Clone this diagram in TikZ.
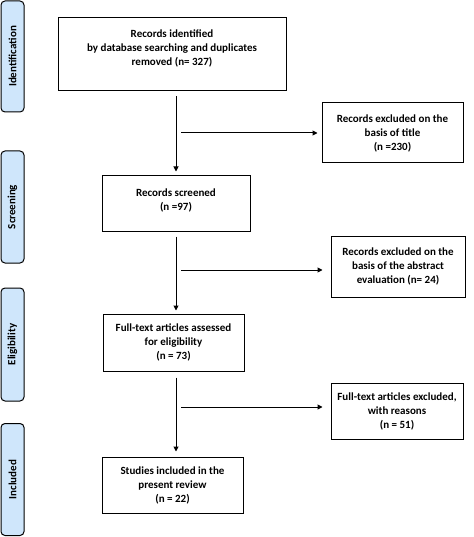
\documentclass[tikz,border=0pt]{standalone}
\usepackage{fontspec}
\setmainfont{Carlito}
\usetikzlibrary{arrows.meta}
\definecolor{phase}{HTML}{CFE6FB}
\tikzset{
  box/.style={draw=black, line width=1pt, inner sep=0pt},
  btext/.style={align=center, font=\bfseries\fontsize{11}{14}\selectfont, inner sep=0pt},
  phasebox/.style={draw=black, line width=1pt, fill=phase, rounded corners=4pt, minimum width=23pt, inner sep=0pt},
  ptext/.style={rotate=90, font=\bfseries\fontsize{11}{13}\selectfont, inner sep=0pt},
  arr/.style={line width=1pt, -{Triangle[length=5pt,width=5pt]}}
}
\begin{document}
\begin{tikzpicture}[x=1pt,y=-1pt]
\useasboundingbox (0,0) rectangle (473,537);
% phase labels
\node[phasebox, minimum height=111pt] (p1) at (12.5,56.5) {};
\node[ptext] (p1t) at (p1.center) {Identification};
\node[phasebox, minimum height=112pt] (p2) at (12.5,207) {};
\node[ptext] (p2t) at (p2.center) {Screening};
\node[phasebox, minimum height=113pt] (p3) at (12.5,344.5) {};
\node[ptext] (p3t) at (p3.center) {Eligibility};
\node[phasebox, minimum height=112pt] (p4) at (12.5,479.5) {};
\node[ptext] (p4t) at (p4.center) {Included};
% main boxes
\node[box, minimum width=228pt, minimum height=73pt] (b1) at (172,54.5) {};
\node[btext] (b1t) at (172,48) {Records identified\\by database searching and duplicates\\removed (n= 327)};
\node[box, minimum width=148pt, minimum height=55pt] (b2) at (176,203.5) {};
\node[btext] (b2t) at (176,200) {Records screened\\(n =97)};
\node[box, minimum width=141pt, minimum height=57pt] (b3) at (173.5,342.5) {};
\node[btext] (b3t) at (b3.center) {Full-text articles assessed\\for eligibility\\(n = 73)};
\node[box, minimum width=141pt, minimum height=56pt] (b4) at (172.5,485) {};
\node[btext] (b4t) at (b4.center) {Studies included in the\\present review\\(n = 22)};
% exclusion boxes
\node[box, minimum width=141pt, minimum height=60pt] (e1) at (392.5,133) {};
\node[btext] (e1t) at (e1.center) {Records excluded on the\\basis of title\\(n =230)};
\node[box, minimum width=134pt, minimum height=61pt] (e2) at (398,266.5) {};
\node[btext] (e2t) at (e2.center) {Records excluded on the\\basis of the abstract\\evaluation (n= 24)};
\node[box, minimum width=132pt, minimum height=56pt] (e3) at (397,411) {};
\node[btext] (e3t) at (e3.center) {Full-text articles excluded,\\with reasons\\(n = 51)};
% vertical arrows
\draw[arr, shorten <=5pt, shorten >=4pt] (b1.south -| b2.north) -- (b2.north);
\draw[arr, shorten <=5pt, shorten >=3pt] (b2.south) -- (b2.south |- b3.north);
\draw[arr, shorten <=6pt, shorten >=5pt] (b3.south -| b2.south) -- (b4.north -| b2.south);
% horizontal arrows
\coordinate (h1) at (181,133);
\coordinate (h2) at (181,270);
\coordinate (h3) at (181,407);
\draw[arr, shorten >=4pt] (h1) -- (h1 -| e1.west);
\draw[arr, shorten >=8pt] (h2) -- (h2 -| e2.west);
\draw[arr, shorten >=8pt] (h3) -- (h3 -| e3.west);
\end{tikzpicture}
\end{document}
